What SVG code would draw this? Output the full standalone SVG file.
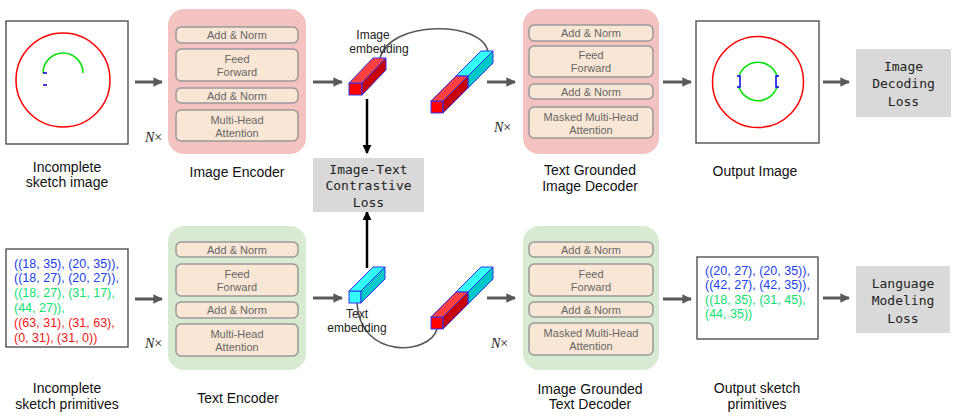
<svg xmlns="http://www.w3.org/2000/svg" width="961" height="417" viewBox="0 0 961 417">
<defs>
<style>
.lbl{font-family:"Liberation Sans",Arial,sans-serif;font-size:14px;fill:#111;text-anchor:middle}
.in{font-family:"Liberation Sans",Arial,sans-serif;font-size:11px;fill:#666;text-anchor:middle}
.emb{font-family:"Liberation Sans",Arial,sans-serif;font-size:12px;fill:#222;text-anchor:middle}
.mono{font-family:"DejaVu Sans Mono","Liberation Mono",monospace;font-size:13px;fill:#222;text-anchor:middle}
.prim{font-family:"Liberation Sans",Arial,sans-serif;font-size:12.5px}
.nx{font-family:"Liberation Serif","Times New Roman",serif;font-size:14px;fill:#222}
.pink{fill:#f5c2c2}
.green{fill:#d9ead3}
.inner{fill:#f9e6d4;stroke:#999;stroke-width:1.5}
.frame{fill:#fff;stroke:#444;stroke-width:1.3}
.loss{fill:#d9d9d9}
.arr{stroke:#595959;stroke-width:3;fill:none;marker-end:url(#ga)}
.barr{stroke:#000;stroke-width:2.5;fill:none;marker-end:url(#ba)}
.arc{stroke:#595959;stroke-width:1.6;fill:none}
.rf{fill:#ff0000;stroke:#3333ee;stroke-width:1}
.rt{fill:#ff4040;stroke:#3333ee;stroke-width:1}
.rs{fill:#c80000;stroke:#3333ee;stroke-width:1}
.cf{fill:#33ffff;stroke:#3333ee;stroke-width:1}
.ct{fill:#33ffff;stroke:#3333ee;stroke-width:1}
.cs{fill:#00c8c8;stroke:#3333ee;stroke-width:1}
.bl{fill:#2040f0}.gr{fill:#10e070}.rd{fill:#f01818}
</style>
<marker id="ga" viewBox="0 0 10 10" refX="9" refY="5" markerWidth="3.2" markerHeight="3.2" orient="auto"><path d="M0,0L10,5L0,10z" fill="#595959"/></marker>
<marker id="ba" viewBox="0 0 10 10" refX="9" refY="5" markerWidth="3.6" markerHeight="3.6" orient="auto"><path d="M0,0L10,5L0,10z" fill="#000"/></marker>
</defs>

<g id="connectors">
<line class="arr" x1="135" y1="82" x2="162" y2="82"/>
<line class="arr" x1="313" y1="82" x2="342" y2="82"/>
<line class="arr" x1="487" y1="82" x2="515" y2="82"/>
<line class="arr" x1="663" y1="82" x2="691" y2="82"/>
<line class="arr" x1="823" y1="82" x2="849" y2="82"/>
<line class="arr" x1="135" y1="299" x2="162" y2="299"/>
<line class="arr" x1="313" y1="298" x2="342" y2="298"/>
<line class="arr" x1="487" y1="298" x2="515" y2="298"/>
<line class="arr" x1="663" y1="299" x2="691" y2="299"/>
<line class="arr" x1="823" y1="298" x2="849" y2="298"/>
<line class="barr" x1="367" y1="99" x2="367" y2="153"/>
<line class="barr" x1="367" y1="268" x2="367" y2="212"/>
<path class="arc" d="M380,58 C390,20 482,20 488,52"/>
<path class="arc" d="M357,303 C360,360 430,355 437,329"/>
</g>

<g id="incomplete-image">
<rect class="frame" x="6" y="21" width="122" height="123"/>
<circle cx="63" cy="80" r="47" fill="none" stroke="#ff0000" stroke-width="1.5"/>
<path d="M43,73 A20,20 0 0 1 83,73" fill="none" stroke="#00e000" stroke-width="1.5"/>
<path d="M43,73 H47 M43,85 H47" stroke="#0000cc" stroke-width="1.5"/>
<text class="lbl" x="67" y="172">Incomplete</text>
<text class="lbl" x="67" y="187">sketch image</text>
<text class="nx" x="145" y="142"><tspan font-style="italic">N</tspan>×</text>
</g>

<g id="image-encoder">
<rect class="pink" x="168" y="9" width="138" height="145" rx="16"/>
<rect class="inner" x="176" y="27" width="122" height="16" rx="5"/>
<rect class="inner" x="176" y="49" width="122" height="32" rx="5"/>
<rect class="inner" x="176" y="88" width="122" height="15" rx="5"/>
<rect class="inner" x="176" y="110" width="122" height="31" rx="5"/>
<text class="in" x="237" y="39">Add &amp; Norm</text>
<text class="in" x="237" y="63">Feed</text>
<text class="in" x="237" y="76">Forward</text>
<text class="in" x="237" y="99.5">Add &amp; Norm</text>
<text class="in" x="237" y="124">Multi-Head</text>
<text class="in" x="237" y="137">Attention</text>
<text class="lbl" x="237" y="177">Image Encoder</text>
</g>

<g id="image-embedding">
<rect class="rf" x="349" y="83" width="13" height="12"/>
<polygon class="rt" points="349,83 362,83 386,58 373,58"/>
<polygon class="rs" points="362,83 386,58 386,70 362,95"/>
<text class="emb" x="373" y="39">Image</text>
<text class="emb" x="379" y="53">embedding</text>
</g>

<g id="concat-top">
<rect class="cf" x="456" y="76" width="12" height="12"/>
<polygon class="ct" points="456,76 468,76 493,51 481,51"/>
<polygon class="cs" points="468,76 493,51 493,63 468,88"/>
<rect class="rf" x="431" y="101" width="12" height="12"/>
<polygon class="rt" points="431,101 443,101 468,76 456,76"/>
<polygon class="rs" points="443,101 468,76 468,88 443,113"/>
<text class="nx" x="494" y="132"><tspan font-style="italic">N</tspan>×</text>
</g>

<g id="contrastive-loss">
<rect class="loss" x="313" y="158" width="111" height="54"/>
<text class="mono" x="368.5" y="173.5">Image-Text</text>
<text class="mono" x="368.5" y="190">Contrastive</text>
<text class="mono" x="368.5" y="206.5">Loss</text>
</g>

<g id="image-decoder">
<rect class="pink" x="523" y="9" width="136" height="145" rx="16"/>
<rect class="inner" x="529" y="25" width="124" height="16" rx="5"/>
<rect class="inner" x="529" y="46" width="124" height="31" rx="5"/>
<rect class="inner" x="529" y="84" width="124" height="15" rx="5"/>
<rect class="inner" x="529" y="107" width="124" height="31" rx="5"/>
<text class="in" x="591" y="37">Add &amp; Norm</text>
<text class="in" x="591" y="59">Feed</text>
<text class="in" x="591" y="72">Forward</text>
<text class="in" x="591" y="95.5">Add &amp; Norm</text>
<text class="in" x="591" y="121">Masked Multi-Head</text>
<text class="in" x="591" y="134">Attention</text>
<text class="lbl" x="590" y="175">Text Grounded</text>
<text class="lbl" x="590" y="191">Image Decoder</text>
</g>

<g id="output-image">
<rect class="frame" x="696" y="21" width="123" height="122"/>
<circle cx="758" cy="82" r="45.5" fill="none" stroke="#ff0000" stroke-width="1.5"/>
<path d="M739,76 A20,20 0 0 1 777,76 M739,87 A20,20 0 0 0 777,87" fill="none" stroke="#00e000" stroke-width="1.5"/>
<path d="M737,76 H740 V87 H737 M779,76 H776 V87 H779" fill="none" stroke="#0000ee" stroke-width="1.5"/>
<text class="lbl" x="755" y="176">Output Image</text>
</g>

<g id="image-decoding-loss">
<rect class="loss" x="856" y="49" width="95" height="68"/>
<text class="mono" x="903.5" y="70.5">Image</text>
<text class="mono" x="903.5" y="87.5">Decoding</text>
<text class="mono" x="903.5" y="105.5">Loss</text>
</g>

<g id="incomplete-primitives">
<rect class="frame" x="6" y="249" width="122" height="98"/>
<text class="prim bl" x="14" y="267.5">((18, 35), (20, 35)),</text>
<text class="prim bl" x="14" y="282">((18, 27), (20, 27)),</text>
<text class="prim gr" x="14" y="296.5">((18, 27), (31, 17),</text>
<text class="prim gr" x="14" y="311.5">(44, 27)),</text>
<text class="prim rd" x="14" y="326.5">((63, 31), (31, 63),</text>
<text class="prim rd" x="14" y="341.5">(0, 31), (31, 0))</text>
<text class="lbl" x="67" y="393">Incomplete</text>
<text class="lbl" x="67" y="409">sketch primitives</text>
<text class="nx" x="145" y="348"><tspan font-style="italic">N</tspan>×</text>
</g>

<g id="text-encoder">
<rect class="green" x="168" y="226" width="138" height="144" rx="16"/>
<rect class="inner" x="176" y="242" width="122" height="15" rx="5"/>
<rect class="inner" x="176" y="264" width="122" height="32" rx="5"/>
<rect class="inner" x="176" y="302" width="122" height="16" rx="5"/>
<rect class="inner" x="176" y="324" width="122" height="32" rx="5"/>
<text class="in" x="237" y="253.5">Add &amp; Norm</text>
<text class="in" x="237" y="278">Feed</text>
<text class="in" x="237" y="291">Forward</text>
<text class="in" x="237" y="314">Add &amp; Norm</text>
<text class="in" x="237" y="338">Multi-Head</text>
<text class="in" x="237" y="351">Attention</text>
<text class="lbl" x="238" y="403">Text Encoder</text>
</g>

<g id="text-embedding">
<rect class="cf" x="349" y="291" width="12" height="12"/>
<polygon class="ct" points="349,291 361,291 385,267 373,267"/>
<polygon class="cs" points="361,291 385,267 385,279 361,303"/>
<text class="emb" x="357" y="318">Text</text>
<text class="emb" x="357" y="332">embedding</text>
</g>

<g id="concat-bottom">
<rect class="cf" x="456" y="292" width="12" height="12"/>
<polygon class="ct" points="456,292 468,292 493,267 481,267"/>
<polygon class="cs" points="468,292 493,267 493,279 468,304"/>
<rect class="rf" x="431" y="317" width="12" height="12"/>
<polygon class="rt" points="431,317 443,317 468,292 456,292"/>
<polygon class="rs" points="443,317 468,292 468,304 443,329"/>
<text class="nx" x="491" y="348"><tspan font-style="italic">N</tspan>×</text>
</g>

<g id="text-decoder">
<rect class="green" x="523" y="226" width="136" height="144" rx="16"/>
<rect class="inner" x="529" y="242" width="124" height="15" rx="5"/>
<rect class="inner" x="529" y="264" width="124" height="32" rx="5"/>
<rect class="inner" x="529" y="302" width="124" height="15" rx="5"/>
<rect class="inner" x="529" y="323" width="124" height="32" rx="5"/>
<text class="in" x="591" y="253.5">Add &amp; Norm</text>
<text class="in" x="591" y="278">Feed</text>
<text class="in" x="591" y="291">Forward</text>
<text class="in" x="591" y="313.5">Add &amp; Norm</text>
<text class="in" x="591" y="337">Masked Multi-Head</text>
<text class="in" x="591" y="350">Attention</text>
<text class="lbl" x="590" y="394">Image Grounded</text>
<text class="lbl" x="590" y="409">Text Decoder</text>
</g>

<g id="output-primitives">
<rect class="frame" x="697" y="257" width="121" height="82"/>
<text class="prim bl" x="705" y="274.5">((20, 27), (20, 35)),</text>
<text class="prim bl" x="705" y="288.5">((42, 27), (42, 35)),</text>
<text class="prim gr" x="705" y="303.5">((18, 35), (31, 45),</text>
<text class="prim gr" x="705" y="317.5">(44, 35))</text>
<text class="lbl" x="757" y="393">Output sketch</text>
<text class="lbl" x="757" y="409">primitives</text>
</g>

<g id="language-modeling-loss">
<rect class="loss" x="856" y="266" width="94" height="67"/>
<text class="mono" x="903" y="287.5">Language</text>
<text class="mono" x="903" y="304.5">Modeling</text>
<text class="mono" x="903" y="322.5">Loss</text>
</g>
</svg>
